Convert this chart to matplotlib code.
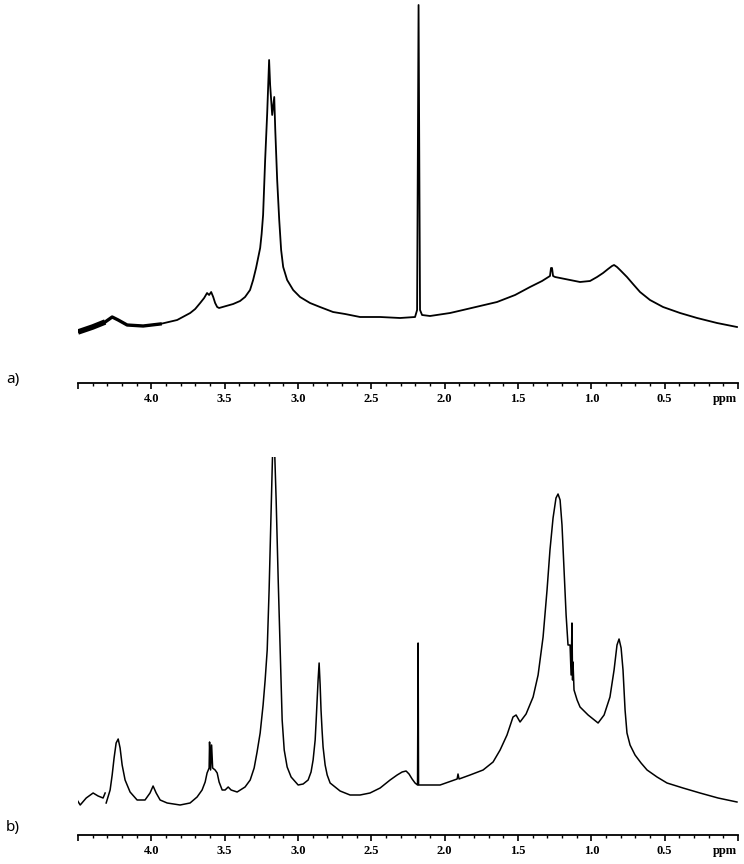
import numpy as np
import matplotlib
matplotlib.use('Agg')
import matplotlib.pyplot as plt
from matplotlib.ticker import MultipleLocator, FixedLocator

# spectrum a) - chemical shift (ppm) and intensity (arbitrary units)
ppm_a = [4.50, 4.40, 4.315, 4.267, 4.226, 4.165, 4.056, 3.940, 3.824, 3.735,
         3.701, 3.667, 3.640, 3.620, 3.606, 3.592, 3.578, 3.565, 3.551, 3.538,
         3.490, 3.442, 3.395, 3.361, 3.327, 3.306, 3.286, 3.272, 3.258, 3.248,
         3.238, 3.224, 3.210, 3.197, 3.190, 3.176, 3.162, 3.155, 3.142, 3.128,
         3.115, 3.101, 3.074, 3.033, 2.986, 2.918, 2.850, 2.761, 2.679, 2.577,
         2.440, 2.304, 2.202, 2.188, 2.178, 2.168, 2.154, 2.100, 1.963, 1.875,
         1.759, 1.643, 1.520, 1.418, 1.336, 1.282, 1.275, 1.268, 1.261, 1.247,
         1.179, 1.077, 1.009, 0.961, 0.920, 0.886, 0.859, 0.845, 0.825, 0.804,
         0.757, 0.716, 0.668, 0.600, 0.511, 0.395, 0.279, 0.143, 0.007]
int_a = [-14, -9, -4, 1, -2, -7, -8, -6, -2, 5,
         9, 15, 20, 25, 23, 26, 21, 15, 11, 10,
         12, 14, 17, 21, 28, 38, 50, 60, 70, 84,
         103, 158, 205, 258, 233, 203, 221, 188, 138, 98,
         68, 51, 38, 28, 21, 15, 11, 6, 4, 1,
         1, 0, 1, 8, 313, 8, 3, 2, 5, 8,
         12, 16, 23, 31, 37, 42, 50, 50, 42, 41,
         39, 36, 37, 41, 45, 49, 52, 53, 51, 48,
         41, 34, 26, 18, 11, 5, 0, -5, -9]

# spectrum b)
ppm_b = [4.506, 4.485, 4.444, 4.397, 4.363, 4.329, 4.315, np.nan,
         4.308, 4.281, 4.267, 4.254, 4.240, 4.226, 4.213, 4.199, 4.179, 4.145,
         4.097, 4.043, 4.009, 3.988, 3.967, 3.940, 3.892, 3.804, 3.736, 3.688,
         3.654, 3.633, 3.620, 3.606, 3.603, 3.596, 3.589, 3.582, 3.565, 3.551,
         3.538, 3.517, 3.497, 3.476, 3.456, 3.415, 3.361, 3.326, 3.299, 3.279,
         3.258, 3.238, 3.224, 3.210, 3.197, 3.183, 3.174, 3.166, 3.158, 3.149,
         3.135, 3.120, 3.108, 3.094, 3.074, 3.047, 2.999, 2.965, 2.931, 2.911,
         2.897, 2.883, 2.876, 2.863, 2.856, 2.849, 2.843, 2.836, 2.829, 2.815,
         2.801, 2.781, 2.713, 2.645, 2.577, 2.509, 2.440, 2.372, 2.324, 2.290,
         2.263, 2.243, 2.222, 2.202, 2.185, 2.181, 2.178, 2.154, 2.031, 1.915,
         1.909, 1.902, 1.827, 1.738, 1.670, 1.622, 1.575, 1.534, 1.513, 1.486,
         1.445, 1.397, 1.363, 1.329, 1.302, 1.282, 1.261, 1.241, 1.227, 1.213,
         1.200, 1.186, 1.172, 1.159, 1.145, 1.138, 1.132, 1.128, 1.125, 1.118,
         1.097, 1.077, 1.022, 0.954, 0.913, 0.873, 0.845, 0.825, 0.811, 0.797,
         0.784, 0.770, 0.757, 0.736, 0.702, 0.661, 0.620, 0.552, 0.484, 0.375,
         0.259, 0.136, 0.007]
int_b = [-10, -15, -8, -3, -6, -8, -3, np.nan,
         -13, 0, 15, 32, 47, 51, 42, 25, 10, -2,
         -10, -10, -3, 4, -3, -10, -13, -15, -13, -7,
         0, 8, 17, 22, 48, 20, 45, 22, 20, 17,
         8, 0, 0, 3, 0, -2, 3, 10, 22, 38,
         57, 85, 110, 140, 200, 280, 333, 394, 333, 290,
         210, 130, 70, 40, 23, 13, 5, 6, 10, 18,
         30, 50, 70, 110, 127, 105, 80, 60, 43, 25,
         15, 7, -1, -5, -5, -3, 2, 10, 15, 18,
         19, 16, 11, 7, 5, 147, 5, 5, 5, 11,
         16, 11, 15, 20, 28, 40, 55, 73, 75, 68,
         76, 93, 115, 153, 200, 240, 272, 292, 296, 290,
         265, 220, 175, 145, 145, 115, 167, 110, 128, 100,
         90, 83, 75, 67, 75, 93, 120, 145, 151, 142,
         120, 80, 57, 45, 35, 27, 20, 13, 7, 2,
         -3, -8, -12]

major_ticks = [4.5, 4.0, 3.5, 3.0, 2.5, 2.0, 1.5, 1.0, 0.5, 0.0]
tick_labels = ['', '4.0', '3.5', '3.0', '2.5', '2.0', '1.5', '1.0', '0.5', '']


def style_axis(ax):
    ax.set_xlim(4.5, 0.0)
    for side in ['left', 'right', 'top']:
        ax.spines[side].set_visible(False)
    ax.spines['bottom'].set_linewidth(1.3)
    ax.set_yticks([])
    ax.xaxis.set_major_locator(FixedLocator(major_ticks))
    ax.xaxis.set_minor_locator(MultipleLocator(0.1))
    ax.set_xticklabels(tick_labels, family='Liberation Serif', fontsize=9,
                       fontweight='bold')
    ax.tick_params(axis='x', which='major', direction='out', length=4,
                   width=1.2, pad=3)
    ax.tick_params(axis='x', which='minor', direction='out', length=2.5,
                   width=1.0)
    ax.annotate('ppm', xy=(0.09, 0), xycoords=('data', 'axes fraction'),
                xytext=(0, -7), textcoords='offset points',
                ha='center', va='top', family='Liberation Serif', fontsize=9,
                fontweight='bold')


W, H = 744, 864
fig = plt.figure(figsize=(W / 100, H / 100), dpi=100)

ax_a = fig.add_axes([78 / W, 1 - 383 / H, 660 / W, 383 / H])
ax_a.plot(ppm_a, int_a, color='black', lw=1.3)
# noisy start of the spectrum drawn heavier
ax_a.plot(ppm_a[:3], int_a[:3], color='black', lw=4.0, solid_capstyle='butt')
ax_a.plot(ppm_a[2:8], int_a[2:8], color='black', lw=2.4)
ax_a.set_ylim(-65, 318)
style_axis(ax_a)

ax_b = fig.add_axes([78 / W, 1 - 835 / H, 660 / W, 378 / H])
ax_b.plot(ppm_b, int_b, color='black', lw=1.1)
ax_b.set_ylim(-45, 333)
style_axis(ax_b)

fig.text(13 / W, 1 - 379 / H, 'a)', family='Noto Sans', fontsize=11,
         ha='center', va='center')
fig.text(13 / W, 1 - 828 / H, 'b)', family='Noto Sans', fontsize=11,
         ha='center', va='center')

fig.savefig('out.png', dpi=100)
